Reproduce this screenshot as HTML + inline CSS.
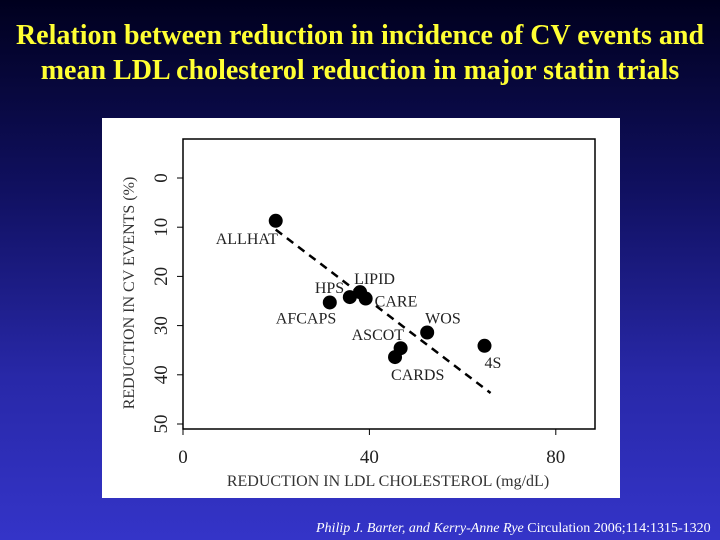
<!DOCTYPE html>
<html><head><meta charset="utf-8"><style>
html,body{margin:0;padding:0}
body{width:720px;height:540px;overflow:hidden;position:relative;background:linear-gradient(to bottom,#00001e 0%,#101060 35%,#2828a8 70%,#3434c8 100%);font-family:"Liberation Serif",serif}
#title{position:absolute;top:18px;left:0;width:720px;text-align:center;color:#ffff33;font-weight:bold;font-size:28px;line-height:35px;white-space:nowrap}
#panel{position:absolute;left:102px;top:118px;width:518px;height:380px;background:#fff}
#cite{position:absolute;left:316px;top:521px;color:#fff;font-size:14px;white-space:nowrap}
</style></head><body>
<div id="title">Relation between reduction in incidence of CV events and<br>mean LDL cholesterol reduction in major statin trials</div>
<div id="panel">
<svg id="chart" width="518" height="380"></svg>
</div>
<div id="cite"><i>Philip J. Barter, and Kerry-Anne Rye</i> Circulation 2006;114:1315-1320</div>
<script>
const trials=["ALLHAT","AFCAPS","HPS","LIPID","CARE","WOS","ASCOT","CARDS","4S"];
const ldlReduction=[19.9,31.5,35.8,38,39.2,52.4,46.7,45.5,64.7];
const cvReduction=[8.7,25.3,24.2,23.2,24.5,31.4,34.6,36.4,34.1];
const trendX=[19.9,66];
const trendY=[10.5,43.7];
const xTicks=[0,40,80];
const yTicks=[0,10,20,30,40,50];
// label offsets relative to point (px)
const labelDx=[-60,-54,-35,-6,9,-2,-49,-4,0];
const labelDy=[23,21,-4,-8,8,-9,-8,23,22];
const ox=102,oy=118;
const X=v=>183-ox+v*4.66;
const Y=v=>178-oy+v*4.92;
const NS="http://www.w3.org/2000/svg";
const svg=document.getElementById('chart');
function mk(t,a){const e=document.createElementNS(NS,t);for(const k in a)e.setAttribute(k,a[k]);svg.appendChild(e);return e;}
let r=mk('rect',{x:183-ox,y:139-oy,width:412,height:290,fill:'none',stroke:'#000','stroke-width':1.5});


xTicks.forEach(t=>{
 let l=mk('line',{x1:X(t),x2:X(t),y1:429-oy,y2:435-oy,stroke:'#000'});
 
 
 let tx=mk('text',{x:X(t),y:463-oy,'text-anchor':'middle','font-size':19,fill:'#222'});
 tx.textContent=t;
 
 
});
yTicks.forEach(t=>{
 let l=mk('line',{x1:177-ox,x2:183-ox,y1:Y(t),y2:Y(t),stroke:'#000'});
 
 
 let tx=mk('text',{x:0,y:0,'text-anchor':'middle','font-size':19,fill:'#222',transform:`translate(${167-ox},${Y(t)}) rotate(-90)`});
 tx.textContent=t;
 
 
});
let xt=mk('text',{x:388-ox,y:486-oy,'text-anchor':'middle','font-size':16,fill:'#333'});
xt.textContent='REDUCTION IN LDL CHOLESTEROL (mg/dL)';


let yt=mk('text',{x:0,y:0,'text-anchor':'middle','font-size':16,fill:'#333',transform:`translate(${134-ox},${293-oy}) rotate(-90)`});
yt.textContent='REDUCTION IN CV EVENTS  (%)';


let tl=mk('line',{x1:X(trendX[0]),y1:Y(trendY[0]),x2:X(trendX[1]),y2:Y(trendY[1]),stroke:'#000','stroke-width':2.5,'stroke-dasharray':'8,6'});


trials.forEach((n,i)=>{
 let c=mk('circle',{cx:X(ldlReduction[i]),cy:Y(cvReduction[i]),r:7,fill:'#000'});
 
 
});
trials.forEach((n,i)=>{
 let t=mk('text',{x:X(ldlReduction[i])+labelDx[i],y:Y(cvReduction[i])+labelDy[i],'font-size':16,fill:'#222'});
 t.textContent=n;
 
 
});
</script>
</body></html>
